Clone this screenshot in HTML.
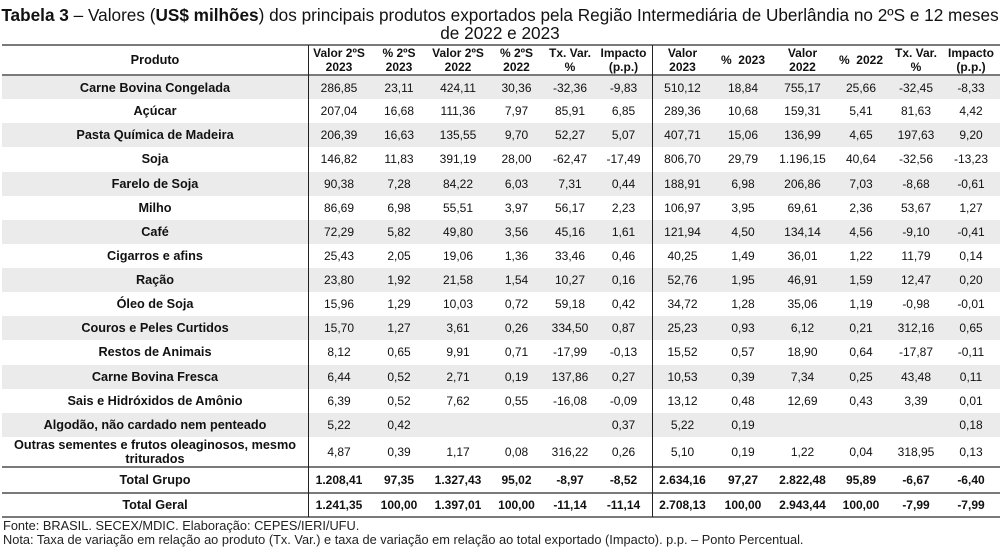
<!DOCTYPE html>
<html><head><meta charset="utf-8"><style>
*{margin:0;padding:0;box-sizing:border-box}
body{width:1000px;height:556px;background:#fff;font-family:"Liberation Sans",Arial,sans-serif;color:#111;position:relative;overflow:hidden}
.title{position:absolute;left:-10px;top:6px;width:1020px;text-align:center;font-size:17.2px;line-height:18px;white-space:nowrap}
.row{position:absolute;left:2px;width:998px;display:flex;align-items:center;font-size:12px}
.row div{text-align:center;line-height:14px}
.g{background:#ebebeb}
.c0{width:306px;font-weight:bold;font-size:12.7px}
.hd{font-weight:bold}
.hl{position:absolute;left:2px;width:998px;height:2px;background:#7a7a7a}
.vl{position:absolute;top:45px;width:1px;height:472px;background:#222}
.foot{position:absolute;left:3px;font-size:12.8px;color:#222;white-space:nowrap}
</style></head><body>
<div class="title"><b>Tabela 3</b> – Valores (<b>US$ milhões</b>) dos principais produtos exportados pela Região Intermediária de Uberlândia no 2ºS e 12 meses<br>de 2022 e 2023</div>
<div class="hl" style="top:44px"></div>
<div class="hl" style="top:74px"></div>
<div class="hl" style="top:466px"></div>
<div class="hl" style="top:492px"></div>
<div class="hl" style="top:516px"></div>

<div class="row hd" style="top:46px;height:28px">
<div class="c0">Produto</div><div style="width:62px">Valor 2ºS<br>2023</div><div style="width:58px">% 2ºS<br>2023</div><div style="width:60px">Valor 2ºS<br>2022</div><div style="width:57px">% 2ºS<br>2022</div><div style="width:50px">Tx. Var.<br>%</div><div style="width:57px">Impacto<br>(p.p.)</div><div style="width:61px">Valor<br>2023</div><div style="width:60px">%&nbsp; 2023</div><div style="width:59px">Valor<br>2022</div><div style="width:58px">%&nbsp; 2022</div><div style="width:52px">Tx. Var.<br>%</div><div style="width:58px">Impacto<br>(p.p.)</div>
</div>

<div class="row g" style="top:76px;height:23.1px"><div class="c0">Carne Bovina Congelada</div><div style="width:62px">286,85</div><div style="width:58px">23,11</div><div style="width:60px">424,11</div><div style="width:57px">30,36</div><div style="width:50px">-32,36</div><div style="width:57px">-9,83</div><div style="width:61px">510,12</div><div style="width:60px">18,84</div><div style="width:59px">755,17</div><div style="width:58px">25,66</div><div style="width:52px">-32,45</div><div style="width:58px">-8,33</div></div>
<div class="row" style="top:99.1px;height:24.2px"><div class="c0">Açúcar</div><div style="width:62px">207,04</div><div style="width:58px">16,68</div><div style="width:60px">111,36</div><div style="width:57px">7,97</div><div style="width:50px">85,91</div><div style="width:57px">6,85</div><div style="width:61px">289,36</div><div style="width:60px">10,68</div><div style="width:59px">159,31</div><div style="width:58px">5,41</div><div style="width:52px">81,63</div><div style="width:58px">4,42</div></div>
<div class="row g" style="top:123.3px;height:24.1px"><div class="c0">Pasta Química de Madeira</div><div style="width:62px">206,39</div><div style="width:58px">16,63</div><div style="width:60px">135,55</div><div style="width:57px">9,70</div><div style="width:50px">52,27</div><div style="width:57px">5,07</div><div style="width:61px">407,71</div><div style="width:60px">15,06</div><div style="width:59px">136,99</div><div style="width:58px">4,65</div><div style="width:52px">197,63</div><div style="width:58px">9,20</div></div>
<div class="row" style="top:147.4px;height:24.1px"><div class="c0">Soja</div><div style="width:62px">146,82</div><div style="width:58px">11,83</div><div style="width:60px">391,19</div><div style="width:57px">28,00</div><div style="width:50px">-62,47</div><div style="width:57px">-17,49</div><div style="width:61px">806,70</div><div style="width:60px">29,79</div><div style="width:59px">1.196,15</div><div style="width:58px">40,64</div><div style="width:52px">-32,56</div><div style="width:58px">-13,23</div></div>
<div class="row g" style="top:171.5px;height:24.2px"><div class="c0">Farelo de Soja</div><div style="width:62px">90,38</div><div style="width:58px">7,28</div><div style="width:60px">84,22</div><div style="width:57px">6,03</div><div style="width:50px">7,31</div><div style="width:57px">0,44</div><div style="width:61px">188,91</div><div style="width:60px">6,98</div><div style="width:59px">206,86</div><div style="width:58px">7,03</div><div style="width:52px">-8,68</div><div style="width:58px">-0,61</div></div>
<div class="row" style="top:195.7px;height:24.1px"><div class="c0">Milho</div><div style="width:62px">86,69</div><div style="width:58px">6,98</div><div style="width:60px">55,51</div><div style="width:57px">3,97</div><div style="width:50px">56,17</div><div style="width:57px">2,23</div><div style="width:61px">106,97</div><div style="width:60px">3,95</div><div style="width:59px">69,61</div><div style="width:58px">2,36</div><div style="width:52px">53,67</div><div style="width:58px">1,27</div></div>
<div class="row g" style="top:219.8px;height:24.1px"><div class="c0">Café</div><div style="width:62px">72,29</div><div style="width:58px">5,82</div><div style="width:60px">49,80</div><div style="width:57px">3,56</div><div style="width:50px">45,16</div><div style="width:57px">1,61</div><div style="width:61px">121,94</div><div style="width:60px">4,50</div><div style="width:59px">134,14</div><div style="width:58px">4,56</div><div style="width:52px">-9,10</div><div style="width:58px">-0,41</div></div>
<div class="row" style="top:243.9px;height:24.2px"><div class="c0">Cigarros e afins</div><div style="width:62px">25,43</div><div style="width:58px">2,05</div><div style="width:60px">19,06</div><div style="width:57px">1,36</div><div style="width:50px">33,46</div><div style="width:57px">0,46</div><div style="width:61px">40,25</div><div style="width:60px">1,49</div><div style="width:59px">36,01</div><div style="width:58px">1,22</div><div style="width:52px">11,79</div><div style="width:58px">0,14</div></div>
<div class="row g" style="top:268.1px;height:24.1px"><div class="c0">Ração</div><div style="width:62px">23,80</div><div style="width:58px">1,92</div><div style="width:60px">21,58</div><div style="width:57px">1,54</div><div style="width:50px">10,27</div><div style="width:57px">0,16</div><div style="width:61px">52,76</div><div style="width:60px">1,95</div><div style="width:59px">46,91</div><div style="width:58px">1,59</div><div style="width:52px">12,47</div><div style="width:58px">0,20</div></div>
<div class="row" style="top:292.2px;height:24.1px"><div class="c0">Óleo de Soja</div><div style="width:62px">15,96</div><div style="width:58px">1,29</div><div style="width:60px">10,03</div><div style="width:57px">0,72</div><div style="width:50px">59,18</div><div style="width:57px">0,42</div><div style="width:61px">34,72</div><div style="width:60px">1,28</div><div style="width:59px">35,06</div><div style="width:58px">1,19</div><div style="width:52px">-0,98</div><div style="width:58px">-0,01</div></div>
<div class="row g" style="top:316.3px;height:24.1px"><div class="c0">Couros e Peles Curtidos</div><div style="width:62px">15,70</div><div style="width:58px">1,27</div><div style="width:60px">3,61</div><div style="width:57px">0,26</div><div style="width:50px">334,50</div><div style="width:57px">0,87</div><div style="width:61px">25,23</div><div style="width:60px">0,93</div><div style="width:59px">6,12</div><div style="width:58px">0,21</div><div style="width:52px">312,16</div><div style="width:58px">0,65</div></div>
<div class="row" style="top:340.4px;height:24.2px"><div class="c0">Restos de Animais</div><div style="width:62px">8,12</div><div style="width:58px">0,65</div><div style="width:60px">9,91</div><div style="width:57px">0,71</div><div style="width:50px">-17,99</div><div style="width:57px">-0,13</div><div style="width:61px">15,52</div><div style="width:60px">0,57</div><div style="width:59px">18,90</div><div style="width:58px">0,64</div><div style="width:52px">-17,87</div><div style="width:58px">-0,11</div></div>
<div class="row g" style="top:364.6px;height:24.1px"><div class="c0">Carne Bovina Fresca</div><div style="width:62px">6,44</div><div style="width:58px">0,52</div><div style="width:60px">2,71</div><div style="width:57px">0,19</div><div style="width:50px">137,86</div><div style="width:57px">0,27</div><div style="width:61px">10,53</div><div style="width:60px">0,39</div><div style="width:59px">7,34</div><div style="width:58px">0,25</div><div style="width:52px">43,48</div><div style="width:58px">0,11</div></div>
<div class="row" style="top:388.7px;height:24.1px"><div class="c0">Sais e Hidróxidos de Amônio</div><div style="width:62px">6,39</div><div style="width:58px">0,52</div><div style="width:60px">7,62</div><div style="width:57px">0,55</div><div style="width:50px">-16,08</div><div style="width:57px">-0,09</div><div style="width:61px">13,12</div><div style="width:60px">0,48</div><div style="width:59px">12,69</div><div style="width:58px">0,43</div><div style="width:52px">3,39</div><div style="width:58px">0,01</div></div>
<div class="row g" style="top:412.8px;height:24.2px"><div class="c0">Algodão, não cardado nem penteado</div><div style="width:62px">5,22</div><div style="width:58px">0,42</div><div style="width:60px"></div><div style="width:57px"></div><div style="width:50px"></div><div style="width:57px">0,37</div><div style="width:61px">5,22</div><div style="width:60px">0,19</div><div style="width:59px"></div><div style="width:58px"></div><div style="width:52px"></div><div style="width:58px">0,18</div></div>
<div class="row" style="top:437px;height:29px"><div class="c0">Outras sementes e frutos oleaginosos, mesmo<br>triturados</div><div style="width:62px">4,87</div><div style="width:58px">0,39</div><div style="width:60px">1,17</div><div style="width:57px">0,08</div><div style="width:50px">316,22</div><div style="width:57px">0,26</div><div style="width:61px">5,10</div><div style="width:60px">0,19</div><div style="width:59px">1,22</div><div style="width:58px">0,04</div><div style="width:52px">318,95</div><div style="width:58px">0,13</div></div>
<div class="row hd" style="top:468px;height:24px"><div class="c0">Total Grupo</div><div style="width:62px">1.208,41</div><div style="width:58px">97,35</div><div style="width:60px">1.327,43</div><div style="width:57px">95,02</div><div style="width:50px">-8,97</div><div style="width:57px">-8,52</div><div style="width:61px">2.634,16</div><div style="width:60px">97,27</div><div style="width:59px">2.822,48</div><div style="width:58px">95,89</div><div style="width:52px">-6,67</div><div style="width:58px">-6,40</div></div>
<div class="row hd" style="top:494px;height:22px"><div class="c0">Total Geral</div><div style="width:62px">1.241,35</div><div style="width:58px">100,00</div><div style="width:60px">1.397,01</div><div style="width:57px">100,00</div><div style="width:50px">-11,14</div><div style="width:57px">-11,14</div><div style="width:61px">2.708,13</div><div style="width:60px">100,00</div><div style="width:59px">2.943,44</div><div style="width:58px">100,00</div><div style="width:52px">-7,99</div><div style="width:58px">-7,99</div></div>

<div class="vl" style="left:308px"></div>
<div class="vl" style="left:652px"></div>

<div class="foot" style="top:518px">Fonte: BRASIL. SECEX/MDIC. Elaboração: CEPES/IERI/UFU.</div>
<div class="foot" style="top:532px">Nota: Taxa de variação em relação ao produto (Tx. Var.) e taxa de variação em relação ao total exportado (Impacto). p.p. – Ponto Percentual.</div>
</body></html>
